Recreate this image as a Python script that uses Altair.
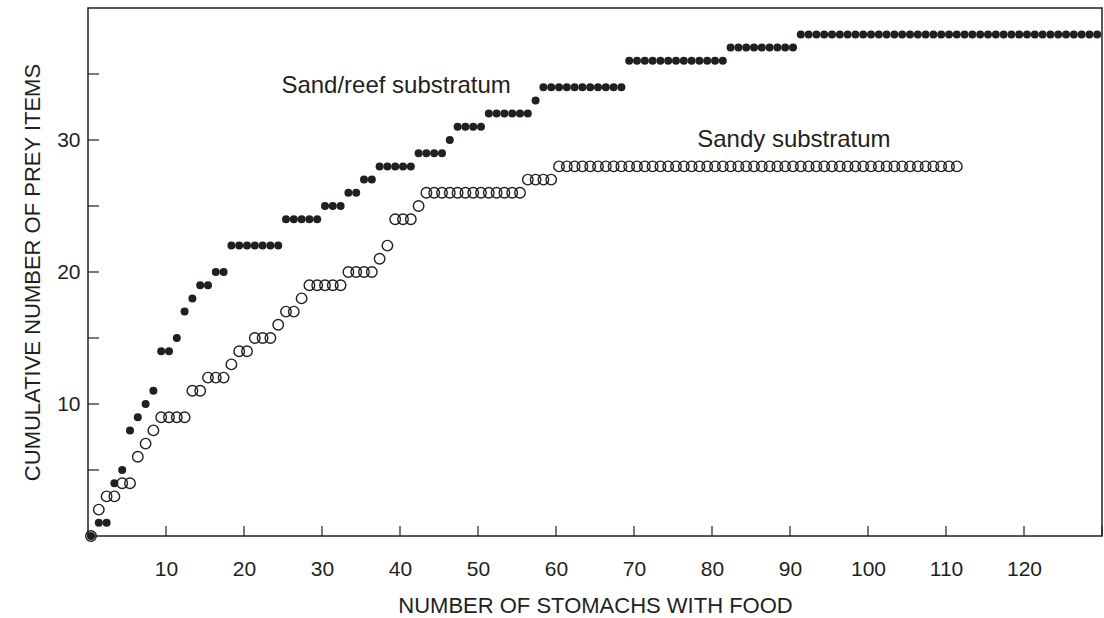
import altair as alt
import pandas as pd

# cumulative number of prey items, one value per stomach (0-based index)
reef_y = [0, 1, 1, 4, 5, 8, 9, 10, 11, 14, 14, 15, 17, 18, 19, 19, 20, 20,
          22, 22, 22, 22, 22, 22, 22,
          24, 24, 24, 24, 24,
          25, 25, 25,
          26, 26,
          27, 27,
          28, 28, 28, 28, 28,
          29, 29, 29, 29,
          30,
          31, 31, 31, 31,
          32, 32, 32, 32, 32, 32,
          33,
          34, 34, 34, 34, 34, 34, 34, 34, 34, 34, 34,
          36, 36, 36, 36, 36, 36, 36, 36, 36, 36, 36, 36, 36,
          37, 37, 37, 37, 37, 37, 37, 37, 37,
          38, 38, 38, 38, 38, 38, 38, 38, 38, 38, 38, 38, 38,
          38, 38, 38, 38, 38, 38, 38, 38, 38, 38, 38, 38, 38,
          38, 38, 38, 38, 38, 38, 38, 38, 38, 38, 38, 38, 38]

sandy_y = [0, 2, 3, 3, 4, 4, 6, 7, 8,
           9, 9, 9, 9,
           11, 11,
           12, 12, 12,
           13,
           14, 14,
           15, 15, 15,
           16,
           17, 17,
           18,
           19, 19, 19, 19, 19,
           20, 20, 20, 20,
           21,
           22,
           24, 24, 24,
           25,
           26, 26, 26, 26, 26, 26, 26, 26, 26, 26, 26, 26, 26,
           27, 27, 27, 27,
           28, 28, 28, 28, 28, 28, 28, 28, 28, 28, 28, 28, 28,
           28, 28, 28, 28, 28, 28, 28, 28, 28, 28, 28, 28, 28,
           28, 28, 28, 28, 28, 28, 28, 28, 28, 28, 28, 28, 28,
           28, 28, 28, 28, 28, 28, 28, 28, 28, 28, 28, 28, 28]

x_ticks = [10, 20, 30, 40, 50, 60, 70, 80, 90, 100, 110, 120, 130]
x_labels = [10, 20, 30, 40, 50, 60, 70, 80, 90, 100, 110, 120]
y_ticks = [5, 10, 15, 20, 25, 30, 35]
y_labels = [10, 20, 30]

label_text = ["Sand/reef substratum", "Sandy substratum"]
label_x = [39.5, 90.5]
label_y = [33.55, 29.45]

INK = "#231f20"
FONT = "Liberation Sans"

reef = pd.DataFrame({"n": list(range(len(reef_y))), "y": reef_y})
sandy = pd.DataFrame({"n": list(range(len(sandy_y))), "y": sandy_y})
labels = pd.DataFrame({"t": label_text, "x": label_x, "y": label_y})
xt = pd.DataFrame({"v": x_ticks})
yt = pd.DataFrame({"v": y_ticks})

xscale = alt.Scale(domain=[0, 130], nice=False, zero=False)
yscale = alt.Scale(domain=[0, 40], nice=False, zero=False)

xaxis = alt.Axis(values=x_labels, ticks=False, tickSize=0, domain=False, grid=False,
                 labelFont=FONT, labelFontSize=21, labelColor=INK, labelPadding=22,
                 title="NUMBER OF STOMACHS WITH FOOD", titleFont=FONT, titleFontSize=22,
                 titleFontWeight="normal", titleColor=INK, titleY=69, titleBaseline="middle")
yaxis = alt.Axis(values=y_labels, ticks=False, tickSize=0, domain=False, grid=False,
                 labelFont=FONT, labelFontSize=21, labelColor=INK, labelPadding=8,
                 title="CUMULATIVE NUMBER OF PREY ITEMS", titleFont=FONT, titleFontSize=22,
                 titleFontWeight="normal", titleColor=INK, titleX=-56, titleY=264,
                 titleBaseline="middle", titleAlign="center", titleAngle=270)

reef_layer = alt.Chart(reef).mark_point(
    shape="circle", filled=True, size=64, color=INK, opacity=1, xOffset=3
).encode(
    x=alt.X("n:Q", scale=xscale, axis=xaxis),
    y=alt.Y("y:Q", scale=yscale, axis=yaxis),
)

sandy_layer = alt.Chart(sandy).mark_point(
    shape="circle", filled=False, size=110, stroke=INK, strokeWidth=1.4, opacity=1, xOffset=3
).encode(
    x=alt.X("n:Q", scale=xscale),
    y=alt.Y("y:Q", scale=yscale),
)

xtick_layer = alt.Chart(xt).mark_rule(color=INK, strokeWidth=1.2).encode(
    x=alt.X("v:Q", scale=xscale), y=alt.value(528), y2=alt.value(518)
)
ytick_layer = alt.Chart(yt).mark_rule(color=INK, strokeWidth=1.2).encode(
    y=alt.Y("v:Q", scale=yscale), x=alt.value(0), x2=alt.value(11)
)

text_layer = alt.Chart(labels).mark_text(
    font=FONT, fontSize=24, color=INK, align="center", baseline="alphabetic"
).encode(
    x=alt.X("x:Q", scale=xscale), y=alt.Y("y:Q", scale=yscale), text="t:N"
)

chart = alt.layer(xtick_layer, ytick_layer, reef_layer, sandy_layer, text_layer).properties(
    width=1014, height=528,
    autosize=alt.AutoSizeParams(type="none"),
    padding={"left": 88, "top": 8, "right": 2, "bottom": 82},
    background="white",
).configure_view(stroke=INK, strokeWidth=1.5)

chart.save("out.html", embed_options={"renderer": "svg", "actions": False})
